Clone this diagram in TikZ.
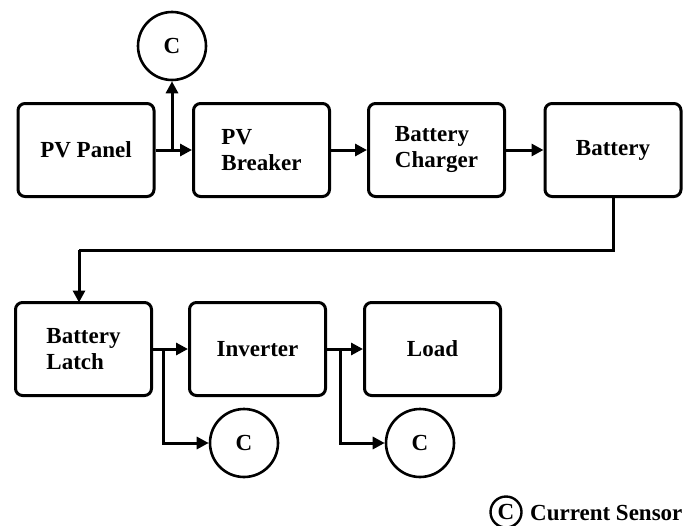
\documentclass[tikz,border=0pt]{standalone}
\usepackage{fontspec}
\setmainfont{Liberation Serif}
\usetikzlibrary{arrows.meta}
\begin{document}
\begin{tikzpicture}[x=1pt,y=-1pt,
  every node/.style={font=\fontsize{23}{26}\selectfont\bfseries},
  blk/.style={draw,line width=3pt,rounded corners=7pt,minimum width=136pt,minimum height=93pt,align=left,inner sep=0pt},
  sens/.style={draw,circle,line width=2.6pt,minimum size=68pt,inner sep=0pt},
  arr/.style={line width=3pt,-{Triangle[length=12pt,width=12pt]}},
  ln/.style={line width=3pt}]
\useasboundingbox (0,0) rectangle (685,525);
\node[blk] (pv) at (86,150) {PV Panel};
\node[blk] (brk) at (261.5,150) {PV\\Breaker};
\node[blk] (chg) at (436.5,150) {Battery\\Charger};
\node[blk] (bat) at (613,150) {Battery};
\node[blk] (lat) at (83.5,349) {Battery\\Latch};
\node[blk] (inv) at (257.5,349) {Inverter};
\node[blk] (lod) at (432.5,349) {Load};
\node[sens] (c1) at (172,46) {C};
\node[sens] (c2) at (244,443) {C};
\node[sens] (c3) at (420,443) {C};
\node[draw,circle,line width=2.4pt,minimum size=31pt,inner sep=0pt] (leg) at (506,512) {C};
\node[anchor=base west,inner sep=0pt] (legt) at (530,520) {Current Sensor};
\coordinate (j1) at (172,150);
\coordinate (j2) at (163,349);
\coordinate (j3) at (340,349);
\coordinate (k1) at (613,250);
\coordinate (k2) at (79,250);
\coordinate (k3) at (79,302.5);
\draw[arr] (pv.east) -- (brk.west);
\draw[arr] (j1) -- (c1.south);
\draw[arr] (brk.east) -- (chg.west);
\draw[arr] (chg.east) -- (bat.west);
\draw[ln] (bat.south) -- (k1) -- (k2);
\draw[arr] (k2) -- (k3);
\draw[arr] (lat.east) -- (inv.west);
\draw[arr] (j2) |- (c2.west);
\draw[arr] (inv.east) -- (lod.west);
\draw[arr] (j3) |- (c3.west);
\end{tikzpicture}
\end{document}
